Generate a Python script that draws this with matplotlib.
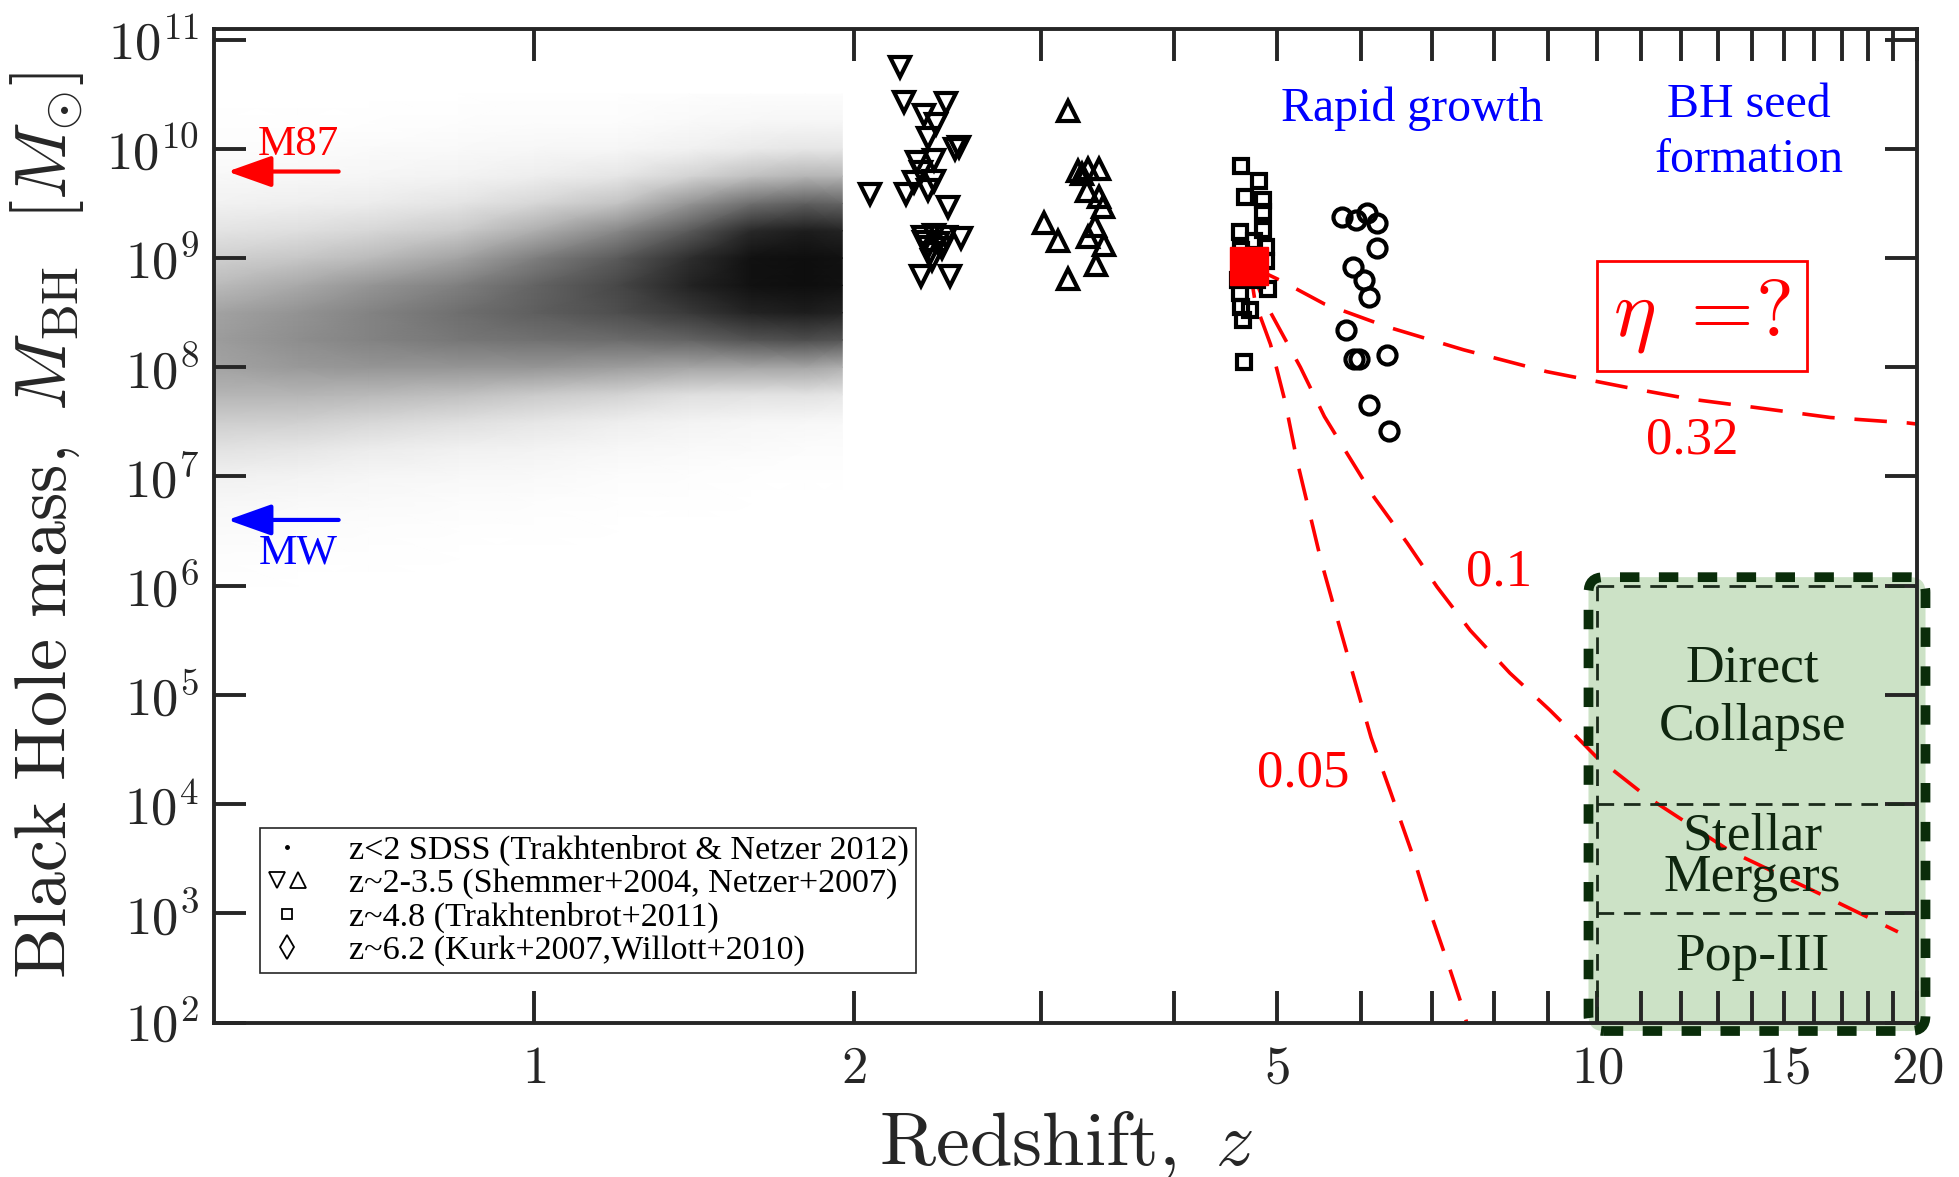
import numpy as np
import matplotlib
matplotlib.use('Agg')
import matplotlib.pyplot as plt
from matplotlib.lines import Line2D
from matplotlib.legend_handler import HandlerTuple
from matplotlib.patches import FancyBboxPatch
from matplotlib.ticker import FixedLocator, FixedFormatter, NullLocator

plt.rcParams['font.family'] = ['Liberation Serif', 'DejaVu Serif']
plt.rcParams['mathtext.fontset'] = 'cm'

# ---------------- data ----------------
# SDSS z<2 cloud: relative point density on a (z, log M) node grid
sdss_z_nodes = [0.5, 0.6, 0.7, 0.85, 1.0, 1.2, 1.4, 1.6, 1.8, 1.95]
sdss_logm_nodes = [6.00, 6.25, 6.50, 6.75, 7.00, 7.25, 7.50, 7.75, 8.00, 8.25,
                   8.50, 8.75, 9.00, 9.25, 9.50, 9.75, 10.00, 10.25, 10.50]
sdss_density = [
    [0.01, 0.00, 0.00, 0.00, 0.00, 0.00, 0.00, 0.00, 0.00, 0.00],
    [0.02, 0.01, 0.01, 0.00, 0.00, 0.00, 0.00, 0.00, 0.00, 0.00],
    [0.04, 0.03, 0.02, 0.01, 0.01, 0.00, 0.00, 0.00, 0.00, 0.00],
    [0.07, 0.05, 0.04, 0.03, 0.02, 0.01, 0.01, 0.00, 0.00, 0.00],
    [0.12, 0.10, 0.08, 0.06, 0.05, 0.03, 0.02, 0.01, 0.01, 0.01],
    [0.20, 0.18, 0.15, 0.12, 0.10, 0.07, 0.05, 0.04, 0.03, 0.03],
    [0.30, 0.29, 0.26, 0.22, 0.18, 0.14, 0.10, 0.08, 0.07, 0.06],
    [0.40, 0.40, 0.39, 0.36, 0.32, 0.28, 0.22, 0.20, 0.20, 0.18],
    [0.46, 0.49, 0.50, 0.50, 0.50, 0.48, 0.45, 0.45, 0.45, 0.42],
    [0.48, 0.53, 0.57, 0.61, 0.63, 0.65, 0.68, 0.74, 0.76, 0.74],
    [0.46, 0.51, 0.57, 0.64, 0.70, 0.76, 0.82, 0.88, 0.90, 0.88],
    [0.38, 0.44, 0.50, 0.58, 0.68, 0.78, 0.88, 0.94, 0.95, 0.94],
    [0.29, 0.33, 0.38, 0.46, 0.58, 0.72, 0.85, 0.94, 0.95, 0.94],
    [0.19, 0.22, 0.26, 0.32, 0.42, 0.55, 0.72, 0.86, 0.90, 0.88],
    [0.11, 0.13, 0.15, 0.19, 0.26, 0.35, 0.50, 0.64, 0.70, 0.68],
    [0.06, 0.07, 0.08, 0.10, 0.14, 0.18, 0.27, 0.36, 0.40, 0.40],
    [0.03, 0.03, 0.04, 0.05, 0.07, 0.08, 0.12, 0.16, 0.18, 0.18],
    [0.01, 0.01, 0.01, 0.02, 0.03, 0.03, 0.05, 0.07, 0.08, 0.08],
    [0.00, 0.00, 0.00, 0.00, 0.01, 0.01, 0.02, 0.03, 0.03, 0.03],
]

# Shemmer+2004 (down triangles)
shemmer_z = [2.21, 2.23, 2.44, 2.33, 2.39, 2.35, 2.49, 2.51, 2.29, 2.38, 2.07, 2.24, 2.28,
             2.38, 2.35, 2.45, 2.32, 2.38, 2.44, 2.52, 2.35, 2.42, 2.31, 2.46, 2.37, 2.31,
             2.33, 2.40, 2.36]
shemmer_logm = [10.75, 10.43, 10.42, 10.31, 10.23, 10.10, 10.00, 10.02, 9.88, 9.90, 9.59, 9.59, 9.70,
                9.71, 9.62, 9.47, 9.19, 9.21, 9.19, 9.18, 9.10, 9.09, 8.84, 8.84, 8.98, 9.79,
                9.15, 9.14, 9.05]
# Netzer+2007 (up triangles)
netzer_z = [3.18, 3.25, 3.32, 3.40, 3.31, 3.40, 3.43, 3.02, 3.11, 3.37, 3.32, 3.44, 3.38, 3.18, 3.28]
netzer_logm = [10.35, 9.80, 9.82, 9.82, 9.61, 9.56, 9.47, 9.32, 9.16, 9.29, 9.19, 9.12, 8.94, 8.81, 9.77]
# Trakhtenbrot+2011 (squares)
trak_z = [4.62, 4.81, 4.67, 4.85, 4.85, 4.61, 4.85, 4.88, 4.88, 4.90, 4.62, 4.72, 4.64, 4.66,
          4.61, 4.76, 4.62, 4.79, 4.59]
trak_logm = [9.84, 9.71, 9.56, 9.53, 9.42, 9.24, 9.26, 9.10, 8.97, 8.72, 8.55, 8.52, 8.43, 8.05,
             8.68, 9.16, 9.07, 8.80, 8.80]
# Kurk+2007, Willott+2010 (circles)
kurk_z = [5.76, 5.93, 6.08, 6.21, 6.21, 5.89, 6.04, 6.10, 5.80, 5.91, 5.97, 6.35, 6.10, 6.37]
kurk_logm = [9.38, 9.35, 9.41, 9.32, 9.09, 8.92, 8.80, 8.64, 8.34, 8.08, 8.08, 8.11, 7.65, 7.42]
# typical z~4.8 object (red square)
typ_z = [4.71]
typ_logm = [8.93]

# growth tracks backwards in time for different radiative efficiencies
eta032_z = [4.71, 5.05, 5.54, 6.35, 7.49, 8.97, 10.74, 12.22, 14.14, 16.58, 19.61, 20.0]
eta032_logm = [8.93, 8.79, 8.58, 8.37, 8.16, 7.96, 7.81, 7.71, 7.63, 7.54, 7.49, 7.48]
eta010_z = [4.71, 4.85, 5.26, 5.54, 5.82, 6.17, 6.63, 7.07, 7.60, 8.28, 9.03, 9.56, 9.99,
            11.13, 13.34, 16.27, 19.19]
eta010_logm = [8.93, 8.63, 8.00, 7.55, 7.21, 6.81, 6.39, 5.99, 5.59, 5.20, 4.86, 4.62, 4.43,
               4.07, 3.57, 3.17, 2.83]
eta005_z = [4.71, 4.77, 4.93, 5.09, 5.22, 5.50, 5.70, 5.91, 6.13, 6.40, 6.71, 6.98, 7.27,
            7.46, 7.54]
eta005_logm = [8.93, 8.59, 8.21, 7.68, 7.15, 6.23, 5.69, 5.15, 4.61, 4.10, 3.53, 2.99, 2.49,
               2.16, 2.00]

# reference masses
m87_mass = 6.2e9
mw_mass = 4.0e6

# seed formation region
seed_z = [10, 20]
seed_mass_edges = [1e2, 1e3, 1e4, 1e6]
seed_labels = ['Pop-III', 'Stellar\nMergers', 'Direct\nCollapse']

# axis ticks
x_ticks = list(range(1, 21))
x_ticklabels = ['$%d$' % v if v in (1, 2, 5, 10, 15, 20) else '' for v in x_ticks]
y_exponents = list(range(2, 12))
y_ticks = [10.0 ** e for e in y_exponents]
y_ticklabels = [r'$10^{%d}$' % e for e in y_exponents]

# ---------------- figure ----------------
W, H = 1959, 1177
fig = plt.figure(figsize=(W / 100, H / 100), dpi=100)
ax_l, ax_b, ax_w, ax_h = 214 / W, 1 - 1022.5 / H, 1703 / W, 993.8 / H
ax = fig.add_axes([ax_l, ax_b, ax_w, ax_h])
ax.set_xscale('log')
ax.set_yscale('log')
ax.set_xlim(0.5, 20)
ax.set_ylim(1e2, 1.26e11)

axcol = '#262626'
for s in ax.spines.values():
    s.set_linewidth(2.8)
    s.set_color(axcol)
    s.set_zorder(6)

ax.xaxis.set_major_locator(FixedLocator(x_ticks))
ax.xaxis.set_major_formatter(FixedFormatter(x_ticklabels))
ax.xaxis.set_minor_locator(NullLocator())
ax.yaxis.set_major_locator(FixedLocator(y_ticks))
ax.yaxis.set_major_formatter(FixedFormatter(y_ticklabels))
ax.yaxis.set_minor_locator(NullLocator())
ax.tick_params(which='both', direction='in', top=True, right=True, length=23, width=2.8,
               color=axcol, labelcolor=axcol, labelsize=38, zorder=6)
ax.tick_params(axis='x', pad=17)
ax.tick_params(axis='y', pad=11)

# SDSS density cloud
Zg, Mg = np.meshgrid(np.array(sdss_z_nodes), 10.0 ** np.array(sdss_logm_nodes))
ax.pcolormesh(Zg, Mg, np.array(sdss_density), shading='gouraud', cmap='Greys',
              vmin=0, vmax=1, zorder=1, rasterized=True)

# seed region box (light green, rounded thick dashed border)
to_ax = lambda x, y: ax.transAxes.inverted().transform(ax.transData.transform((x, y)))
p0 = to_ax(seed_z[0], seed_mass_edges[0])
p1 = to_ax(seed_z[1], seed_mass_edges[-1])
aspect = (ax_w * W) / (ax_h * H)
box_kw = dict(boxstyle='round,pad=0.005,rounding_size=0.009', mutation_aspect=aspect,
              transform=ax.transAxes, clip_on=False)
ax.add_patch(FancyBboxPatch(p0, p1[0] - p0[0], p1[1] - p0[1], fc='#cce2c6', ec='none',
                            zorder=0.5, **box_kw))
ax.add_patch(FancyBboxPatch(p0, p1[0] - p0[0], p1[1] - p0[1], fc='none', ec='#0a2d0a',
                            lw=7, ls=(0, (2, 2)), zorder=7, **box_kw))
inner_kw = dict(color='#1b2a1b', lw=2.0, ls=(0, (6, 3.5)), zorder=3)
ax.plot([seed_z[0], seed_z[0]], [seed_mass_edges[0], seed_mass_edges[-1]], **inner_kw)
for m in seed_mass_edges[1:]:
    ax.plot(seed_z, [m, m], **inner_kw)

# growth tracks
track_kw = dict(color='red', lw=2.6, ls=(0, (9, 5.5)), zorder=2.5)
for tz, tm in [(eta032_z, eta032_logm), (eta010_z, eta010_logm), (eta005_z, eta005_logm)]:
    ax.plot(tz, 10.0 ** np.array(tm), **track_kw)

# data markers
mk = dict(ls='none', mfc='none', mec='k', mew=3.0, zorder=4)
ax.plot(shemmer_z, 10.0 ** np.array(shemmer_logm), marker='v', ms=14, **mk)
ax.plot(netzer_z, 10.0 ** np.array(netzer_logm), marker='^', ms=14, **mk)
ax.plot(trak_z, 10.0 ** np.array(trak_logm), marker='s', ms=9.5, **mk)
ax.plot(kurk_z, 10.0 ** np.array(kurk_logm), marker='o', ms=13, **mk)
ax.plot(typ_z, 10.0 ** np.array(typ_logm), ls='none', marker='s', ms=27, mfc='red',
        mec='red', mew=1, zorder=5)

# M87 / MW arrows
arr = dict(arrowstyle='-|>,head_length=1.35,head_width=0.48', lw=3, mutation_scale=20,
           shrinkA=0, shrinkB=0)
ax.annotate('', xy=(0.515, m87_mass), xytext=(0.655, m87_mass),
            arrowprops=dict(color='red', **arr), zorder=5)
ax.annotate('', xy=(0.515, mw_mass), xytext=(0.655, mw_mass),
            arrowprops=dict(color='blue', **arr), zorder=5)
ax.text(0.60, 8.7e9, 'M87', color='red', fontsize=31, ha='center', va='baseline')
ax.text(0.60, 1.6e6, 'MW', color='blue', fontsize=31, ha='center', va='baseline')

# annotations (va='baseline' on multi-line text refers to the last line)
ax.text(6.70, 10 ** 10.257, 'Rapid growth', color='blue', fontsize=34.5, ha='center',
        va='baseline')
ax.text(13.9, 10 ** 9.79, 'BH seed\nformation', color='blue', fontsize=34.5, ha='center',
        va='baseline', linespacing=1.33)
ax.text(12.3, 10 ** 7.21, '0.32', color='red', fontsize=38, ha='center', va='baseline')
ax.text(8.09, 10 ** 6.0, '0.1', color='red', fontsize=38, ha='center', va='baseline')
ax.text(5.29, 10 ** 4.16, '0.05', color='red', fontsize=38, ha='center', va='baseline')
ax.text(12.55, 2.94e8, r'$\eta\ =\!?$', color='red', fontsize=58, ha='center', va='center',
        bbox=dict(boxstyle='square,pad=0.2', fc='none', ec='red', lw=2), zorder=6)

txt_col = '#0f260f'
ax.text(14.0, 10 ** 4.585, seed_labels[2], color=txt_col, fontsize=38.5, ha='center',
        va='baseline', linespacing=1.3, zorder=8)
ax.text(14.0, 10 ** 3.206, seed_labels[1], color=txt_col, fontsize=38.5, ha='center',
        va='baseline', linespacing=0.82, zorder=8)
ax.text(14.0, 10 ** 2.485, seed_labels[0], color=txt_col, fontsize=38.5, ha='center',
        va='baseline', zorder=8)

# axis labels
ax.set_xlabel(r'$\mathrm{Redshift,}\ z$', fontsize=55, color=axcol)
ax.xaxis.set_label_coords(0.5, -0.087)
ax.set_ylabel(r'$\mathrm{Black\ Hole\ mass,}\ M_{\mathrm{BH}}\ \ [M_{\odot}]$', fontsize=52,
              color=axcol)
ax.yaxis.set_label_coords(-0.075, 0.5)

# legend
h_dot = Line2D([], [], ls='none', marker='o', ms=2.5, mfc='k', mec='k')
h_dn = Line2D([], [], ls='none', marker='v', ms=11, mfc='none', mec='k', mew=1.3)
h_up = Line2D([], [], ls='none', marker='^', ms=11, mfc='none', mec='k', mew=1.3)
h_sq = Line2D([], [], ls='none', marker='s', ms=7, mfc='none', mec='k', mew=1.3)
h_di = Line2D([], [], ls='none', marker='d', ms=12, mfc='none', mec='k', mew=1.3)
leg_labels = ['z<2 SDSS (Trakhtenbrot & Netzer 2012)',
              'z~2-3.5 (Shemmer+2004, Netzer+2007)',
              'z~4.8 (Trakhtenbrot+2011)',
              'z~6.2 (Kurk+2007,Willott+2010)']
leg = ax.legend([h_dot, (h_dn, h_up), h_sq, h_di], leg_labels,
                handler_map={tuple: HandlerTuple(ndivide=None, pad=0.0)},
                loc='lower left', bbox_to_anchor=(0.027, 0.05), borderaxespad=0,
                fontsize=24.6, frameon=True, fancybox=False, framealpha=1,
                edgecolor=axcol, handlelength=1.2, handletextpad=1.2,
                labelspacing=0.06, borderpad=0.2)
leg.get_frame().set_linewidth(1.2)
leg.set_zorder(9)

fig.savefig('out.png', dpi=100)
